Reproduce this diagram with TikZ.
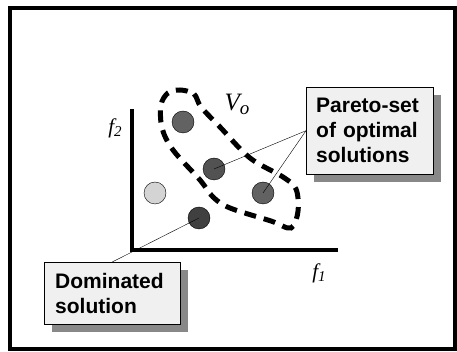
\documentclass[tikz,border=0pt]{standalone}
\usepackage{fontspec}
\setmainfont{Liberation Serif}
\setsansfont{Liberation Sans}
\usepackage{tikz}
\usetikzlibrary{positioning,shadows}
\definecolor{shadecol}{RGB}{136,136,136}
\definecolor{boxcol}{RGB}{240,240,240}
\definecolor{ptdark}{RGB}{64,64,64}
\definecolor{ptmid}{RGB}{82,82,82}
\definecolor{ptgray}{RGB}{98,98,98}
\definecolor{ptlight}{RGB}{212,212,212}

\begin{document}
\begin{tikzpicture}[x=1pt, y=-1pt,
  point/.style={circle, draw=black, thin, minimum size=22pt, inner sep=0pt},
  callout/.style={draw=black, thin, fill=boxcol, anchor=north west,
                  font=\sffamily\bfseries\fontsize{21}{25}\selectfont,
                  align=left, inner sep=0pt,
                  drop shadow={shadow xshift=8pt, shadow yshift=-8pt,
                               fill=shadecol, opacity=1}},
  axislabel/.style={font=\itshape\fontsize{21}{21}\selectfont},
  link/.style={black, thin}
]
  \useasboundingbox (0,0) rectangle (457,352);
  % Outer frame
  \draw[line width=4pt] (10,8) rectangle (455,349);

  % Axes
  \coordinate (origin) at (132,250);
  \coordinate (ytop) at (132,109);
  \coordinate (xend) at (338,250);
  \draw[line width=3.5pt, line join=miter] (ytop) -- (origin) -- (xend);
  \node[axislabel] (f2) at (115,128) {f\raisebox{-0.3ex}{\fontsize{15}{15}\selectfont 2}};
  \node[axislabel] (f1) at (319,273) {f\raisebox{-0.3ex}{\fontsize{15}{15}\selectfont 1}};

  % Region of the Pareto-set
  \draw[line width=5pt, dash pattern=on 12pt off 8pt]
    plot[smooth cycle, tension=0.55] coordinates {
      (180,90) (194,94) (201,107) (220,127) (250,158) (283,177)
      (296,189) (298,211) (291,228) (271,221) (230,208) (213,197)
      (200,180) (173,150) (162,128) (161,105) (168,93)};
  \node[font=\itshape\fontsize{25}{25}\selectfont] (vo) at (237,104)
    {V\raisebox{-0.35ex}{\fontsize{19}{19}\selectfont o}};

  % Solutions
  \foreach \name/\pos/\col in {p1/{183,122}/ptgray, p2/{214,169}/ptmid,
                               p3/{155,193}/ptlight, p4/{263,193}/ptgray,
                               p5/{199,218}/ptdark} {
    \node[point, fill=\col] (\name) at (\pos) {};
  }

  % Callouts
  \node[callout, minimum width=127pt, minimum height=87pt, text width=107pt]
    (pareto) at (306,87) {Pareto-set\\of optimal\\solutions};
  \node[callout, minimum width=136pt, minimum height=62pt, text width=114pt]
    (dom) at (44,262) {Dominated\\solution};

  \draw[link] (pareto.west) -- (p2.center);
  \draw[link] (pareto.west) -- (p4.center);
  \draw[link] (dom.north) -- (p5.center);
\end{tikzpicture}
\end{document}
